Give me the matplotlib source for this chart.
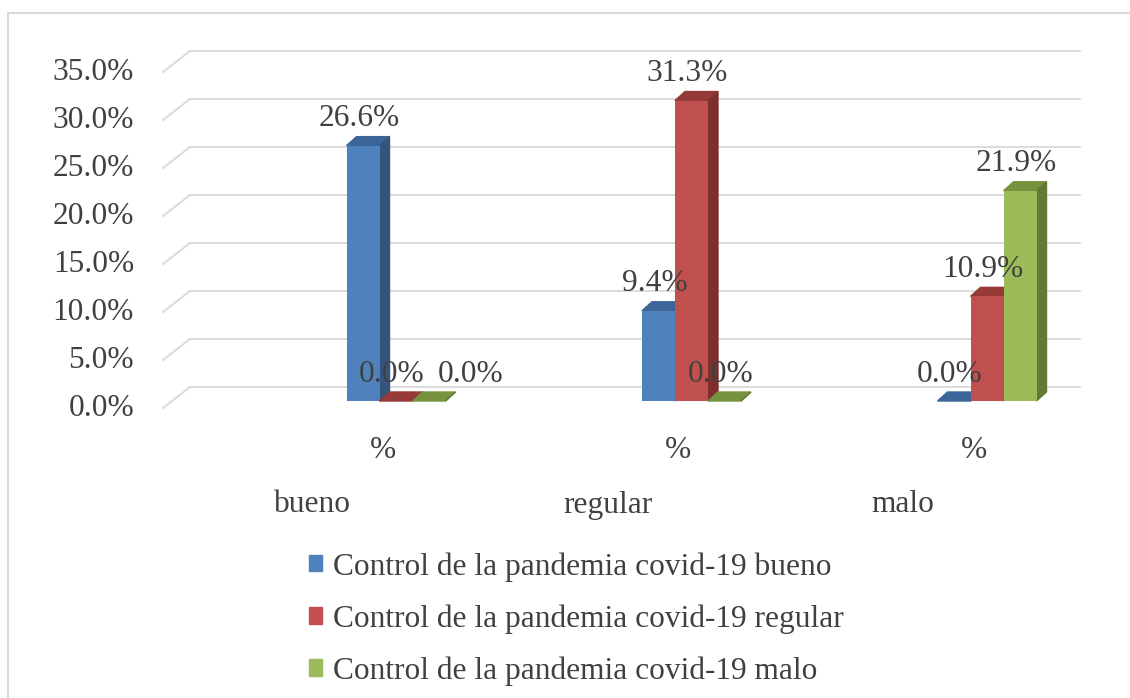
import matplotlib
matplotlib.use("Agg")
import matplotlib.pyplot as plt
from matplotlib.patches import Polygon, Patch
import numpy as np

# datos
categorias = ["bueno", "regular", "malo"]
sub_etiqueta = "%"
series = ["Control de la pandemia covid-19 bueno",
          "Control de la pandemia covid-19 regular",
          "Control de la pandemia covid-19 malo"]
val_bueno = [26.6, 9.4, 0.0]
val_regular = [0.0, 31.3, 10.9]
val_malo = [0.0, 0.0, 21.9]
y_ticks = [0, 5, 10, 15, 20, 25, 30, 35]

valores = [val_bueno, val_regular, val_malo]
frente = ["#4f81bd", "#c0504d", "#9bbb59"]
techo = ["#3c6699", "#963a38", "#76923c"]
lado = ["#34547c", "#7d2f2e", "#637a35"]
gris_texto = "#404040"
fuente = "Liberation Serif"
fs = 22.6

W, H = 1130, 698
fig = plt.figure(figsize=(W / 100, H / 100), dpi=100)

# ejes en el plano de las barras (pixeles medidos)
ax_l, ax_r, y0_px, ppy = 172, 1062, 401, 9.6
ax = fig.add_axes([ax_l / W, (H - y0_px) / H, (ax_r - ax_l) / W, 35 * ppy / H])
c0, paso = 396, 295.5
ax.set_xlim((ax_l - c0) / paso, (ax_r - c0) / paso)
ax.set_ylim(0, 35)
ax.axis("off")

ppx = paso  # pixeles por unidad x


def dx(p):
    return p / ppx


def dy(p):
    return p / ppy


# rejilla: pared del fondo + diagonal del piso
xl, xr = ax.get_xlim()
fondo = (dx(18), dy(14))
delante = (dx(-9), dy(-7))
for v in y_ticks:
    ax.plot([xl + fondo[0], xr + fondo[0]], [v + fondo[1]] * 2,
            color="#d9d9d9", lw=1.3, clip_on=False, zorder=1)
    ax.plot([xl + delante[0], xl + fondo[0]], [v + delante[1], v + fondo[1]],
            color="#d9d9d9", lw=1.3, clip_on=False, zorder=1)
    ax.text(xl + dx(134 - ax_l), v + delante[1], f"{v:.1f}%", ha="right",
            va="center", fontsize=fs, family=fuente, color=gris_texto)

# barras con efecto 3D
bw = 33 / ppx
prof = (dx(10), dy(9))
x = np.arange(len(categorias))
empuje = {(2, 0): 46}  # etiqueta desplazada en px (serie, categoria)
z = 2
for i, vals in enumerate(valores):
    xs = x + (i - 1) * bw
    ax.bar(xs, vals, width=bw, color=frente[i], zorder=z + 2 * i + 1,
           label=series[i])
    for j, (xc, v) in enumerate(zip(xs, vals)):
        x0, x1 = xc - bw / 2, xc + bw / 2
        ax.add_patch(Polygon([(x0, v), (x1, v), (x1 + prof[0], v + prof[1]),
                              (x0 + prof[0], v + prof[1])],
                             closed=True, color=techo[i], zorder=z + 2 * i,
                             clip_on=False))
        ax.add_patch(Polygon([(x1, 0), (x1, v), (x1 + prof[0], v + prof[1]),
                              (x1 + prof[0], prof[1])],
                             closed=True, color=lado[i], zorder=z + 2 * i,
                             clip_on=False))
        ax.text(xc + dx(-4 + empuje.get((i, j), 0)), v + dy(27), f"{v:.1f}%",
                ha="center", va="center", fontsize=fs, family=fuente,
                color=gris_texto, zorder=20, clip_on=False)

# etiquetas de categoria (dos niveles)
for j, cat in enumerate(categorias):
    ax.text(x[j] + dx(-13), dy(-49), sub_etiqueta, ha="center", va="center",
            fontsize=fs, family=fuente, color=gris_texto, clip_on=False)
    ax.text(x[j] + dx(-84), dy(-104), cat, ha="center", va="center",
            fontsize=fs, family=fuente, color=gris_texto, clip_on=False)

# leyenda
manejadores = [Patch(color=c) for c in frente]
fig.legend(manejadores, series, loc="upper left",
           bbox_to_anchor=(309 / W, 1 - 552 / H), frameon=False,
           prop={"family": fuente, "size": fs}, labelcolor=gris_texto,
           handlelength=0.42, handleheight=0.42, handletextpad=0.33,
           labelspacing=0.72, borderpad=0, borderaxespad=0)

# borde del grafico (recortado)
fig.add_artist(plt.Line2D([8 / W, 1], [1 - 12.5 / H] * 2, color="#d9d9d9", lw=1.5))
fig.add_artist(plt.Line2D([8 / W] * 2, [0, 1 - 12.5 / H], color="#d9d9d9", lw=1.5))

fig.savefig("out.png", dpi=100, facecolor="white")
